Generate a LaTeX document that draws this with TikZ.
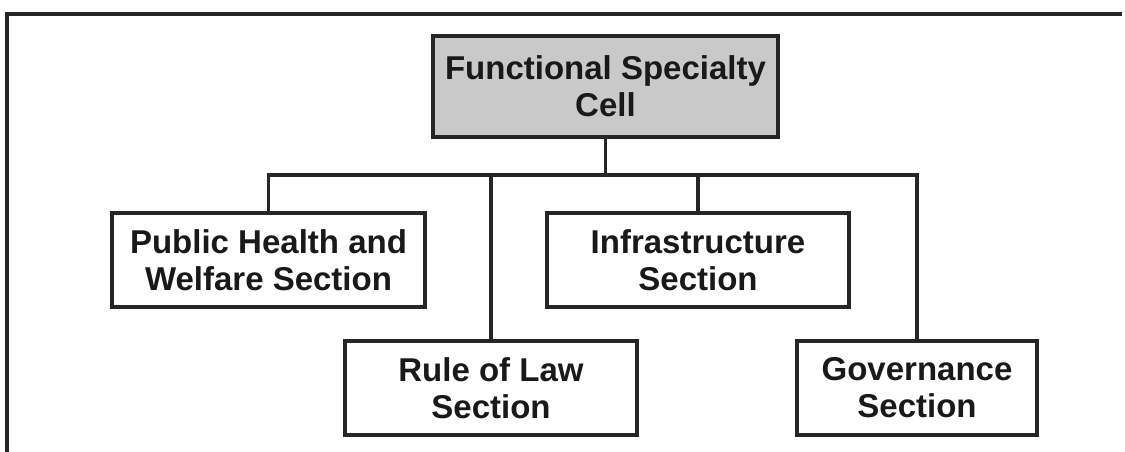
\documentclass[tikz,border=0pt]{standalone}
\usepackage{fontspec}
\setmainfont{Liberation Sans}
\begin{document}
\begin{tikzpicture}[x=1pt,y=-1pt,
  framecol/.style={draw=black!85, line width=3.2pt},
  unitbox/.style={draw=black!85, line width=3.2pt, rectangle, inner sep=0pt, align=center,
    font=\fontsize{33}{37}\selectfont\bfseries, text=black!90, minimum height=94pt},
  headbox/.style={unitbox, fill=black!21, minimum width=345pt, minimum height=101pt},
  conn/.style={draw=black!85, line width=3.2pt}]
\useasboundingbox (0,0) rectangle (1125,452);
\draw[framecol] (7,452) -- (7,14) -- (1122,14);
\node[headbox] (top) at (605.5,86.5) {Functional Specialty\\Cell};
\node[unitbox, minimum width=313pt] (ph) at (268.5,260) {Public Health and\\Welfare Section};
\node[unitbox, minimum width=302pt] (inf) at (698,260) {Infrastructure\\Section};
\node[unitbox, minimum width=292pt] (rol) at (491,388) {Rule of Law\\Section};
\node[unitbox, minimum width=240pt] (gov) at (917,388) {Governance\\Section};
\coordinate (busy) at (0,175);
\draw[conn] (top.south) -- (top.south |- busy);
\draw[conn] (ph.north) -- (ph.north |- busy) -- (top.south |- busy);
\draw[conn] (rol.north) -- (rol.north |- busy);
\draw[conn] (inf.north) -- (inf.north |- busy);
\draw[conn] (gov.north) -- (gov.north |- busy) -- (top.south |- busy);
\end{tikzpicture}
\end{document}
